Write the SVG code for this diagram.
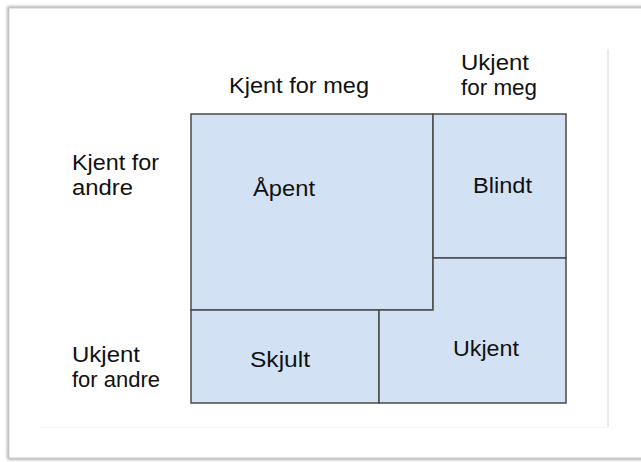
<svg xmlns="http://www.w3.org/2000/svg" width="641" height="462" viewBox="0 0 641 462">
  <defs>
    <filter id="soft" x="-5%" y="-5%" width="110%" height="110%">
      <feGaussianBlur stdDeviation="1.5"/>
    </filter>
    <style>
      .lbl { font-family: "Liberation Sans", Arial, sans-serif; font-size: 21.5px; fill: #111; }
      .box { fill: #d2e2f4; stroke: #4a4a4a; stroke-width: 1.5; }
    </style>
  </defs>
  <rect width="641" height="462" fill="#ffffff"/>
  <g id="frame">
    <rect x="9" y="8" width="645" height="450" fill="none" stroke="#9a9a9a" stroke-width="3" filter="url(#soft)"/>
    <rect x="9" y="8" width="645" height="450" fill="#ffffff" stroke="#d0d0d0" stroke-width="1"/>
    <line x1="608" y1="49" x2="608" y2="427" stroke="#d8d8d8" stroke-width="1"/>
    <line x1="40" y1="427.5" x2="608" y2="427.5" stroke="#f5f5f5" stroke-width="1"/>
  </g>
  <g id="headers">
    <text class="lbl" x="229" y="93" textLength="140" lengthAdjust="spacingAndGlyphs">Kjent for meg</text>
    <text class="lbl" x="461" y="70" textLength="68" lengthAdjust="spacingAndGlyphs">Ukjent</text>
    <text class="lbl" x="461" y="95" textLength="76" lengthAdjust="spacingAndGlyphs">for meg</text>
    <text class="lbl" x="72" y="170" textLength="87" lengthAdjust="spacingAndGlyphs">Kjent for</text>
    <text class="lbl" x="72" y="195" textLength="61" lengthAdjust="spacingAndGlyphs">andre</text>
    <text class="lbl" x="72" y="362" textLength="68" lengthAdjust="spacingAndGlyphs">Ukjent</text>
    <text class="lbl" x="72" y="387" textLength="88" lengthAdjust="spacingAndGlyphs">for andre</text>
  </g>
  <g id="apent">
    <rect class="box" x="191" y="114" width="242" height="196"/>
    <text class="lbl" x="253" y="196" textLength="62" lengthAdjust="spacingAndGlyphs">Åpent</text>
  </g>
  <g id="blindt">
    <rect class="box" x="433" y="114" width="133" height="144"/>
    <text class="lbl" x="473" y="193" textLength="59" lengthAdjust="spacingAndGlyphs">Blindt</text>
  </g>
  <g id="skjult">
    <rect class="box" x="191" y="310" width="188" height="93"/>
    <text class="lbl" x="250" y="367" textLength="60" lengthAdjust="spacingAndGlyphs">Skjult</text>
  </g>
  <g id="ukjent">
    <path class="box" d="M379 403 L379 310 L433 310 L433 258 L566 258 L566 403 Z"/>
    <text class="lbl" x="453" y="356" textLength="66" lengthAdjust="spacingAndGlyphs">Ukjent</text>
  </g>
  <g id="connectors"></g>
</svg>
